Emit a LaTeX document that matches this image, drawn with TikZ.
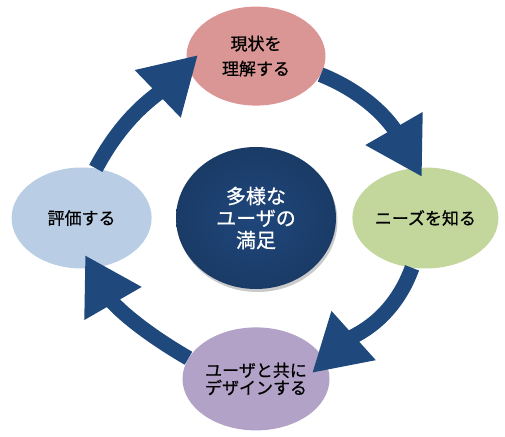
\documentclass[tikz,border=0pt]{standalone}
\usepackage{fontspec}
\setmainfont{Noto Sans CJK JP}[FakeBold=0.7]
\usepackage{tikz}
\usetikzlibrary{arrows.meta,positioning,shapes.geometric,shadows}

\definecolor{arrowblue}{HTML}{1F497D}
\definecolor{hubin}{HTML}{1F467B}
\definecolor{hubout}{HTML}{1A3B66}
\definecolor{rosefill}{HTML}{D99694}
\definecolor{leaffill}{HTML}{C3D69B}
\definecolor{lilacfill}{HTML}{B3A2C7}
\definecolor{skyfill}{HTML}{B9CDE5}

\begin{document}
\begin{tikzpicture}[
        x=1pt, y=1pt,
        phase/.style={ellipse, inner sep=0pt, align=center, minimum width=142pt, minimum height=100pt, font={\fontsize{17}{25}\selectfont}},
        hub/.style={ellipse, inner sep=0pt, align=center, minimum width=160pt, minimum height=142pt, text=white,
            inner color=hubin, outer color=hubout, font={\fontsize{20}{22}\selectfont},
            drop shadow={fill=black!60, opacity=.35, shadow xshift=1.5pt, shadow yshift=-3pt}},
        flow/.style={arrowblue, line width=15pt, -{Triangle[width=62pt, length=56pt]}}
    ]
        \useasboundingbox (0,0) rectangle (505,436);
        \node[hub] (goal) at (256,218) {多様な\\ユーザの\\満足};
        \node[phase, fill=rosefill, minimum width=139pt, minimum height=99pt, above=41pt of goal] (learn) {現状を\\理解する};
        \node[phase, fill=leaffill, minimum width=146pt, minimum height=101pt, right=16pt of goal] (needs) {ニーズを知る};
        \node[phase, fill=lilacfill, minimum width=147pt, minimum height=103pt, below=38pt of goal, font={\fontsize{17}{17.5}\selectfont}] (codesign) {ユーザと共に\\デザインする};
        \node[phase, fill=skyfill, minimum width=140pt, minimum height=101pt, left=24pt of goal] (assess) {評価する};
        % arrow tips reach into the next ellipse
        \coordinate (tipA) at (198,381);
        \coordinate (tipB) at (422,259);
        \coordinate (tipC) at (312,63);
        \coordinate (tipD) at (85,181);
        \draw[flow] (assess.74) to[out=62, in=224] (tipA);
        \draw[flow] (learn.344) to[out=338, in=120] (tipB);
        \draw[flow] (needs.255) to[out=250, in=42] (tipC);
        \draw[flow] (codesign.163) to[out=150, in=300] (tipD);
    \end{tikzpicture}
\end{document}
